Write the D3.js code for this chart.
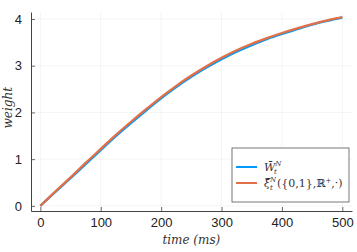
<!DOCTYPE html>
<html>
<head>
<meta charset="utf-8">
<script src="https://cdn.jsdelivr.net/npm/d3@7"></script>
<style>
  body { margin: 0; background: #fff; }
  svg { display: block; }
</style>
</head>
<body>
<svg id="chart" width="357" height="252"></svg>
<script>
// data
const times = [0, 25, 50, 75, 100, 125, 150, 175, 200, 225, 250, 275, 300, 325, 350, 375, 400, 425, 450, 475, 500];
const weightW = [0, 0.30, 0.59, 0.89, 1.19, 1.49, 1.77, 2.04, 2.30, 2.54, 2.76, 2.96, 3.14, 3.30, 3.44, 3.57, 3.68, 3.78, 3.88, 3.96, 4.03];
const weightXi = [0, 0.31, 0.61, 0.92, 1.22, 1.52, 1.80, 2.07, 2.33, 2.57, 2.79, 2.99, 3.17, 3.33, 3.47, 3.59, 3.70, 3.80, 3.89, 3.97, 4.04];
const xTicks = [0, 100, 200, 300, 400, 500];
const yTicks = [0, 1, 2, 3, 4];

const svg = d3.select("#chart");
const margin = {top: 12, right: 5, bottom: 41, left: 31};
const width = 357 - margin.left - margin.right,
      height = 252 - margin.top - margin.bottom;

const x = d3.scaleLinear().domain([-15.5, 516]).range([0, width]);
const y = d3.scaleLinear().domain([-0.11, 4.15]).range([height, 0]);

const g = svg.append("g").attr("transform", "translate(" + margin.left + "," + margin.top + ")");

// grid
g.append("g").selectAll("line").data(xTicks).join("line")
    .attr("x1", d => x(d)).attr("x2", d => x(d))
    .attr("y1", 0).attr("y2", height)
    .attr("stroke", "#000").attr("stroke-opacity", 0.08).attr("stroke-width", 0.6);
g.append("g").selectAll("line").data(yTicks).join("line")
    .attr("x1", 0).attr("x2", width)
    .attr("y1", d => y(d)).attr("y2", d => y(d))
    .attr("stroke", "#000").attr("stroke-opacity", 0.08).attr("stroke-width", 0.6);

// axes
const xAxis = g.append("g")
    .attr("transform", "translate(0," + height + ")")
    .call(d3.axisBottom(x).tickValues(xTicks).tickFormat(d3.format("d")).tickSizeInner(-4).tickSizeOuter(0).tickPadding(7));
const yAxis = g.append("g")
    .call(d3.axisLeft(y).tickValues(yTicks).tickFormat(d3.format("d")).tickSizeInner(-4).tickSizeOuter(0).tickPadding(9));

[xAxis, yAxis].forEach(a => {
  a.select(".domain").attr("stroke", "#444").attr("stroke-width", 1);
  a.selectAll(".tick line").attr("stroke", "#444").attr("stroke-width", 0.8);
  a.selectAll(".tick text")
      .attr("fill", "#222")
      .style("font-family", "'Liberation Sans', Arial, sans-serif")
      .style("font-size", "13px");
});

const serif = "'DejaVu Serif', 'Liberation Serif', serif";

// axis titles
svg.append("text")
    .attr("x", margin.left + x(250))
    .attr("y", 244)
    .attr("text-anchor", "middle")
    .style("font-family", serif)
    .style("font-style", "italic")
    .style("font-size", "12px")
    .attr("fill", "#333")
    .text("time (ms)");

svg.append("text")
    .attr("transform", "translate(12," + (margin.top + y(2.1)) + ") rotate(-90)")
    .attr("text-anchor", "middle")
    .style("font-family", serif)
    .style("font-style", "italic")
    .style("font-size", "12px")
    .attr("fill", "#333")
    .text("weight");

// lines
const line = d3.line()
    .x((d, i) => x(times[i]))
    .y(d => y(d))
    .curve(d3.curveMonotoneX);

g.append("path")
    .datum(weightW)
    .attr("fill", "none")
    .attr("stroke", "#009afa")
    .attr("stroke-width", 2.2)
    .attr("d", line);

g.append("path")
    .datum(weightXi)
    .attr("fill", "none")
    .attr("stroke", "#e26f46")
    .attr("stroke-width", 2.2)
    .attr("d", line);

// legend
const lg = svg.append("g").attr("transform", "translate(232,148)");
lg.append("rect")
    .attr("width", 117).attr("height", 54)
    .attr("fill", "#fff")
    .attr("stroke", "#555").attr("stroke-width", 0.8);

const entries = [
  {color: "#009afa", y: 19},
  {color: "#e26f46", y: 35}
];
lg.selectAll("line.key").data(entries).join("line")
    .attr("class", "key")
    .attr("x1", 4).attr("x2", 25)
    .attr("y1", d => d.y).attr("y2", d => d.y)
    .attr("stroke", d => d.color).attr("stroke-width", 2);

const t1 = lg.append("text").attr("x", 32).attr("y", 23)
    .style("font-family", serif).style("font-size", "11px").attr("fill", "#333");
t1.append("tspan").style("font-style", "italic").text("W\u0304");
t1.append("tspan").style("font-style", "italic").style("font-size", "7px").attr("dy", -5).text("N");
t1.append("tspan").style("font-style", "italic").style("font-size", "7px").attr("x", 42).attr("dy", 8).text("t");

const t2 = lg.append("text").attr("x", 32).attr("y", 39)
    .style("font-family", serif).style("font-size", "11px").attr("fill", "#333");
t2.append("tspan").style("font-style", "italic").text("\u03be\u0304");
t2.append("tspan").style("font-style", "italic").style("font-size", "7px").attr("dy", -5).text("N");
t2.append("tspan").style("font-style", "italic").style("font-size", "7px").attr("x", 38).attr("dy", 8).text("t");
t2.append("tspan").attr("x", 45).attr("dy", -3).text("({0,1},\u211d");
t2.append("tspan").style("font-size", "7px").attr("dy", -4).text("+");
t2.append("tspan").attr("dy", 4).text(",\u00b7)");
</script>
</body>
</html>
